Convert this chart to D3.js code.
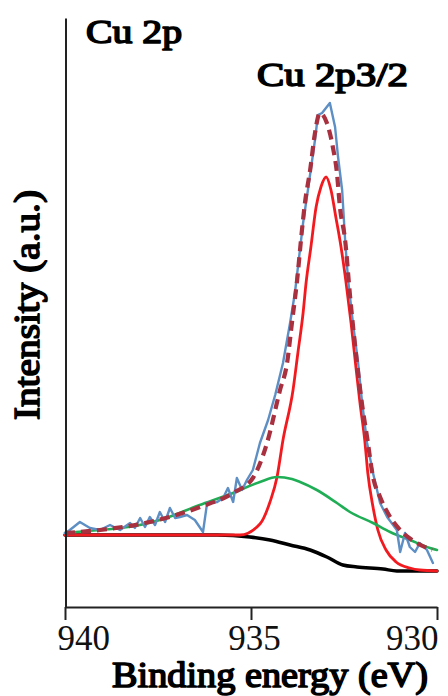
<!DOCTYPE html>
<html>
<head>
<meta charset="utf-8">
<script src="https://cdn.jsdelivr.net/npm/d3@7"></script>
<style>
  html, body { margin: 0; padding: 0; background: #fff; }
  svg { display: block; }
</style>
</head>
<body>
<svg id="chart" width="448" height="696"></svg>
<script>
// Cu 2p XPS spectrum: binding energy (eV) vs intensity (a.u.)
const xTicks = [940, 935, 930];

// Measured spectrum
const expBE = [940.00, 939.87, 939.60, 939.33, 939.06, 938.79, 938.52, 938.25, 938.12, 937.98,
  937.85, 937.72, 937.58, 937.45, 937.31, 937.18, 937.04, 936.91, 936.72, 936.51,
  936.29, 936.18, 935.91, 935.75, 935.62, 935.48, 935.38, 935.24, 935.11, 934.95,
  934.76, 934.54, 934.35, 934.14, 933.95, 933.82, 933.60, 933.47, 933.28, 933.20,
  933.09, 932.88, 932.74, 932.66, 932.55, 932.47, 932.39, 932.26, 932.12, 932.02,
  931.88, 931.72, 931.53, 931.34, 931.08, 930.99, 930.86, 930.73, 930.59, 930.46,
  930.27, 930.11];
const expI = [74, 77, 85, 79, 77, 82, 77, 84, 79, 89,
  80, 90, 82, 95, 85, 99, 89, 90, 92, 87,
  75, 104, 105, 109, 119, 105, 129, 117, 127, 137,
  164, 187, 212, 244, 284, 314, 384, 417, 467, 492,
  494, 504, 480, 450, 417, 367, 327, 284, 244, 207,
  164, 134, 104, 90, 77, 55, 74, 60, 55, 64,
  57, 44];

// Fitted envelope
const envBE = [940.00, 939.06, 937.72, 936.37, 935.48, 934.95, 934.57, 934.22, 934.03, 933.90,
  933.76, 933.63, 933.55, 933.41, 933.28, 933.15, 932.96, 932.80, 932.69, 932.61,
  932.47, 932.34, 932.15, 932.02, 931.88, 931.72, 931.53, 931.26, 930.91, 930.54, 930.13];
const envI = [74, 77, 85, 100, 114, 129, 164, 217, 244, 284,
  327, 377, 404, 437, 474, 494, 484, 460, 434, 400,
  367, 312, 244, 204, 170, 130, 110, 90, 74, 64, 57];

// Main Cu 2p3/2 component
const mainBE = [940.00, 936.00, 935.30, 934.76, 934.49, 934.30, 934.14, 933.87, 933.74, 933.60,
  933.52, 933.39, 933.25, 933.12, 932.98, 932.85, 932.72, 932.58, 932.45, 932.31,
  932.18, 932.07, 931.94, 931.86, 931.72, 931.59, 931.37, 931.10, 930.73, 930.46, 930.00];
const mainI = [72, 72, 72, 83, 105, 130, 167, 217, 254, 294,
  324, 360, 400, 420, 430, 417, 390, 360, 326, 284,
  240, 204, 166, 134, 100, 77, 57, 45, 39, 37, 36];

// Broad satellite component
const satBE = [940.00, 939.06, 938.12, 937.45, 936.38, 935.56, 934.76, 934.30, 933.90, 933.68,
  933.23, 932.69, 932.34, 931.72, 931.26, 930.73, 930.19, 930.00];
const satI = [74, 77, 81, 87, 102, 113, 125, 130, 128, 125,
  117, 104, 95, 84, 75, 67, 59, 57];

// Shirley background
const bgBE = [940.00, 937.00, 935.91, 935.03, 934.49, 933.95, 933.41, 932.96, 932.53, 932.15,
  931.45, 931.08, 930.00];
const bgI = [72, 72, 72, 70, 67, 62, 57, 50, 42, 40, 38, 36, 36];

const SERIF = "'Liberation Serif', 'Times New Roman', Times, serif";

const svg = d3.select("#chart");

const x = d3.scaleLinear().domain([940, 930]).range([65, 437]);
const y = d3.scaleLinear().domain([0, 589]).range([607, 18]);

const zip = (a, b) => a.map((v, i) => [v, b[i]]);

const smooth = d3.line().x(d => x(d[0])).y(d => y(d[1])).curve(d3.curveMonotoneX);
const straight = d3.line().x(d => x(d[0])).y(d => y(d[1]));

const plot = svg.append("g").attr("fill", "none").attr("stroke-linejoin", "round").attr("stroke-linecap", "round");

plot.append("path").attr("d", smooth(zip(bgBE, bgI)))
  .attr("stroke", "#000").attr("stroke-width", 3.5);
plot.append("path").attr("d", smooth(zip(mainBE, mainI)))
  .attr("stroke", "#f21a1f").attr("stroke-width", 2.8);
plot.append("path").attr("d", smooth(zip(satBE, satI)))
  .attr("stroke", "#1fae55").attr("stroke-width", 2.6);
plot.append("path").attr("d", straight(zip(expBE, expI)))
  .attr("stroke", "#5d8fc4").attr("stroke-width", 2.4);
plot.append("path").attr("d", smooth(zip(envBE, envI)))
  .attr("stroke", "#a8303f").attr("stroke-width", 4.2)
  .attr("stroke-linecap", "butt").attr("stroke-dasharray", "10,6");

// Axes
const xAxis = svg.append("g").attr("transform", "translate(0,607)")
  .call(d3.axisBottom(x).tickValues(xTicks).tickSize(13).tickSizeOuter(0).tickFormat(d3.format("d")));
xAxis.attr("font-family", SERIF).attr("font-size", 35);
xAxis.select(".domain").attr("stroke", "#222").attr("stroke-width", 2);
xAxis.selectAll(".tick line").attr("stroke", "#222").attr("stroke-width", 2);
// outer labels are kept inside the frame: first one starts near its tick, last one ends at its tick
xAxis.selectAll(".tick text")
  .attr("y", 43).attr("dy", null).attr("fill", "#111")
  .attr("font-family", SERIF).attr("font-size", 35)
  .attr("text-anchor", (d, i, n) => i === 0 ? "start" : (i === n.length - 1 ? "end" : "middle"))
  .attr("x", (d, i, n) => i === 0 ? -8 : (i === n.length - 1 ? 1 : 3));

const yAxis = svg.append("g").attr("transform", "translate(65.5,0)")
  .call(d3.axisLeft(y).tickValues([]).tickSizeOuter(0));
yAxis.select(".domain").attr("stroke", "#222").attr("stroke-width", 2);

// Heavy serif labels: regular serif face thickened with an outline stroke
const label = (sel) => sel.attr("font-family", SERIF).attr("font-weight", "normal")
  .attr("fill", "#000").attr("stroke", "#000").attr("stroke-width", 1.6).attr("stroke-linejoin", "round")
  .attr("lengthAdjust", "spacingAndGlyphs");

svg.append("text").attr("x", 270).attr("y", 687).attr("text-anchor", "middle")
  .attr("font-size", 36).attr("textLength", 316).call(label)
  .text("Binding energy (eV)");

svg.append("text").attr("transform", "translate(39,305) rotate(-90)").attr("text-anchor", "middle")
  .attr("font-size", 36).attr("textLength", 230).call(label)
  .text("Intensity (a.u.)");

svg.append("text").attr("x", 86).attr("y", 43)
  .attr("font-size", 33).attr("textLength", 96).call(label)
  .text("Cu 2p");

svg.append("text").attr("x", 257).attr("y", 86)
  .attr("font-size", 33).attr("textLength", 151).call(label)
  .text("Cu 2p3/2");
</script>
</body>
</html>
